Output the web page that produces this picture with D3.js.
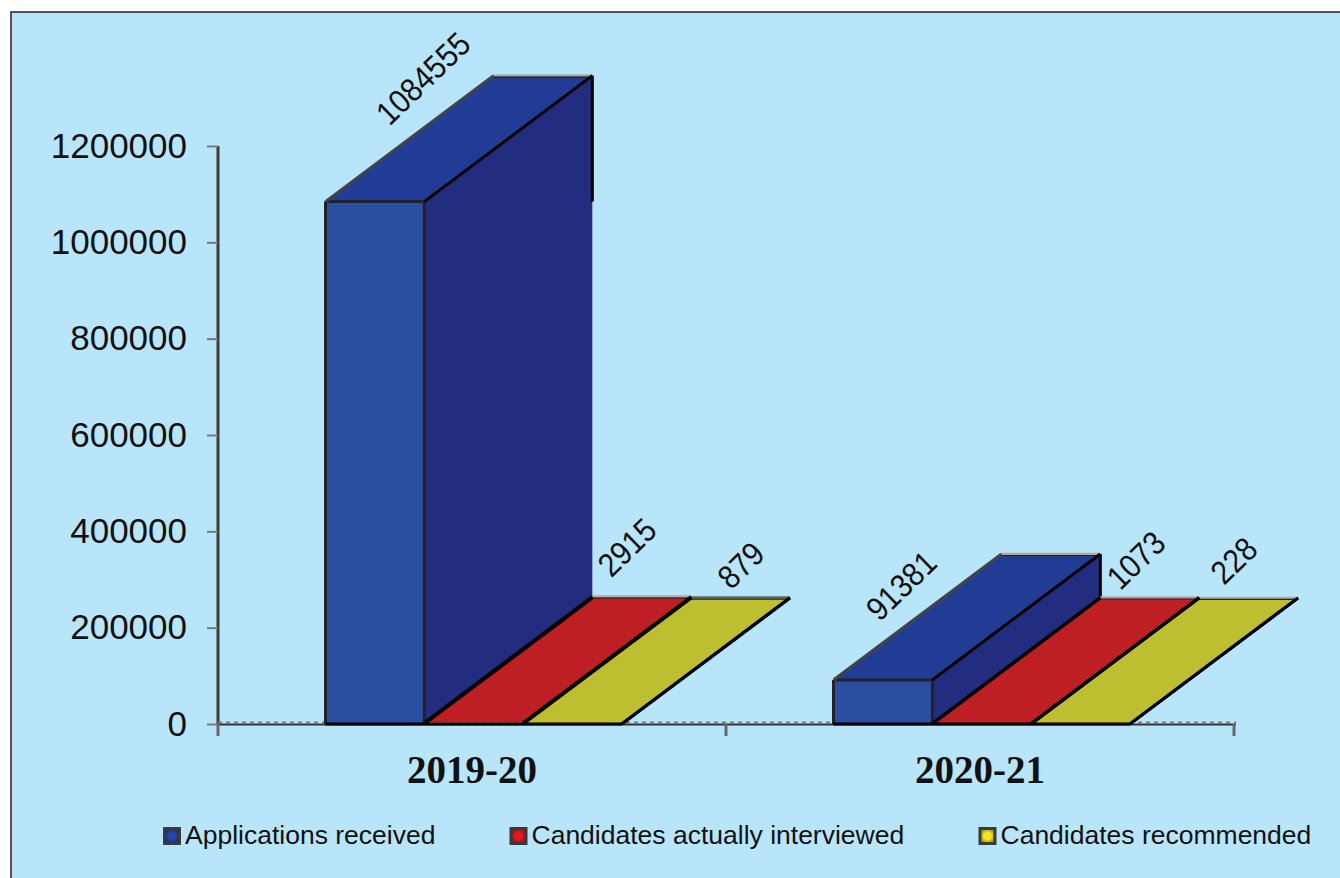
<!DOCTYPE html>
<html><head><meta charset="utf-8">
<script src="https://cdn.jsdelivr.net/npm/d3@7"></script>
<style>html,body{margin:0;padding:0;background:#fff}svg{display:block}</style></head>
<body><svg id="c" width="1340" height="878"></svg>
<script>
const categories = ["2019-20", "2020-21"];
const seriesNames = ["Applications received", "Candidates actually interviewed", "Candidates recommended"];
const applications = [1084555, 91381];
const interviewed = [2915, 1073];
const recommended = [879, 228];
const yTicks = [0, 200000, 400000, 600000, 800000, 1000000, 1200000];
const frontColors = ["#2a4ea0", "#bd1f24", "#bdbf30"];
const sideColors = ["#222d7f", "#8f181c", "#8f9020"];
const topColors = ["#213c94", "#bd1f24", "#bdbf30"];
const legendColors = ["#2448a8", "#e8181e", "#f0e81e"];
const labelNudges = [[98,-123],[203,-175],[218,-158],[68,-94],[204,-163],[203,-163]];

const svg = d3.select("#c");
svg.append("rect").attr("x",11).attr("y",12).attr("width",1340).attr("height",880)
  .attr("fill","#b9e5fb").attr("stroke","#222").attr("stroke-width",1.5);

const y = d3.scaleLinear().domain([0,1200000]).range([724,146]);
const x0 = d3.scaleBand().domain(categories).range([218,1234]);
const x1 = d3.scaleBand().domain(seriesNames).range([107.5,404]);
const depthX = 168, depthY = -126;
const seriesValues = [applications, interviewed, recommended];

// axes
const axY = svg.append("g").attr("transform","translate(218,0)")
  .call(d3.axisLeft(y).tickValues(yTicks).tickSize(11).tickPadding(20).tickFormat(d3.format("d")));
axY.select(".domain").attr("stroke","#3a3a3a").attr("stroke-width",3).attr("d","M0,146V724");
axY.selectAll(".tick line").attr("stroke","#777").attr("stroke-width",2);
axY.selectAll("text").attr("font-family","Liberation Sans").attr("font-size",35).attr("fill","#111");

const axX = svg.append("g").attr("transform","translate(0,724)")
  .call(d3.axisBottom(x0).tickSize(0).tickPadding(31));
axX.select(".domain").attr("stroke","#333").attr("stroke-width",2).attr("d","M218,0.5H1236");
axX.selectAll("text").attr("font-family","Liberation Serif").attr("font-weight","bold").attr("font-size",39).attr("fill","#111");
svg.append("line").attr("x1",218).attr("x2",1236).attr("y1",722.5).attr("y2",722.5)
  .attr("stroke","#777").attr("stroke-width",2).attr("stroke-dasharray","4 4");
const bounds = [x0.range()[0], ...categories.map(c=>x0(c)+x0.bandwidth())];
svg.selectAll(".xt").data(bounds).enter().append("line").attr("class","xt")
  .attr("x1",d=>d).attr("x2",d=>d).attr("y1",724).attr("y2",736)
  .attr("stroke","#666").attr("stroke-width",3);

// legend swatch gradients
const defs = svg.append("defs");
legendColors.forEach((c,i)=>{
  const g = defs.append("radialGradient").attr("id","sw"+i);
  g.append("stop").attr("offset","45%").attr("stop-color",c);
  g.append("stop").attr("offset","100%").attr("stop-color",d3.color(c).darker(1.2));
});

// 3-D bars
const poly = pts => pts.map(p=>p.join(",")).join(" ");
const edge = (a,b,col,w) => svg.append("line").attr("x1",a[0]).attr("y1",a[1]).attr("x2",b[0]).attr("y2",b[1])
  .attr("stroke",col).attr("stroke-width",w);
const labels = [];
categories.forEach((cat,ci)=>{
  seriesNames.forEach((s,si)=>{
    const v = seriesValues[si][ci];
    const l = x0(cat)+x1(s), r = l+x1.bandwidth();
    const t = y(v), b = y(0);
    const dx = depthX, dy = depthY;
    svg.append("polygon").attr("points",poly([[l,t],[r,t],[r+dx,t+dy],[l+dx,t+dy]])).attr("fill",topColors[si]);
    if (b-t > 3) {
      svg.append("polygon").attr("points",poly([[r,t],[r+dx,t+dy],[r+dx,b+dy],[r,b]])).attr("fill",sideColors[si]);
      svg.append("rect").attr("x",l).attr("y",t).attr("width",r-l).attr("height",b-t).attr("fill",frontColors[si]);
      edge([l,t],[l,b],"#222",3);
      edge([r,t],[r,b],"#222",3);
      edge([l,t],[r,t],"#222",3);
      edge([r+dx,t+dy],[r+dx,Math.min(t,b+dy)],"#000",3);
    }
    edge([l,b],[r,b],"#000",3);
    edge([l+dx,t+dy],[r+dx,t+dy],si===2&&ci===0?"#666":"#aaa",2.5);
    edge([l+dx,t+dy+1.5],[r+dx,t+dy+1.5],"#222",1.2);
    labels.push({l,t,v,si,ci,r,dx,dy,b});
  });
});
// diagonal edges on top so the shared edges stay black
labels.forEach(d=>{
  if (d.si===0) edge([d.l,d.t],[d.l+d.dx,d.t+d.dy],"#444",3);
  else edge([d.l,d.t],[d.l+d.dx,d.t+d.dy],"#000",3);
  edge([d.r,d.t],[d.r+d.dx,d.t+d.dy],"#000",3);
  edge([d.r,d.b],[d.r+d.dx,d.b+d.dy],"#000",3);
});
labels.forEach((d,i)=>{
  const [nx,ny] = labelNudges[i];
  svg.append("text").attr("transform",`translate(${d.l+nx},${d.t+ny}) rotate(-44) scale(0.9,1)`)
    .attr("text-anchor","middle").attr("dominant-baseline","central")
    .attr("font-family","Liberation Sans").attr("font-size",33).attr("fill","#111").text(d3.format("d")(d.v));
});

// legend
const legendX = [163,509.5,978.5];
seriesNames.forEach((s,i)=>{
  svg.append("rect").attr("x",legendX[i]+1.5).attr("y",828.5).attr("width",15).attr("height",15)
    .attr("fill",`url(#sw${i})`).attr("stroke","#3a3a3a").attr("stroke-width",3);
  svg.append("text").attr("x",legendX[i]+22).attr("y",844).attr("font-family","Liberation Sans")
    .attr("font-size",26.5).attr("fill","#111").text(s);
});
</script></body></html>
